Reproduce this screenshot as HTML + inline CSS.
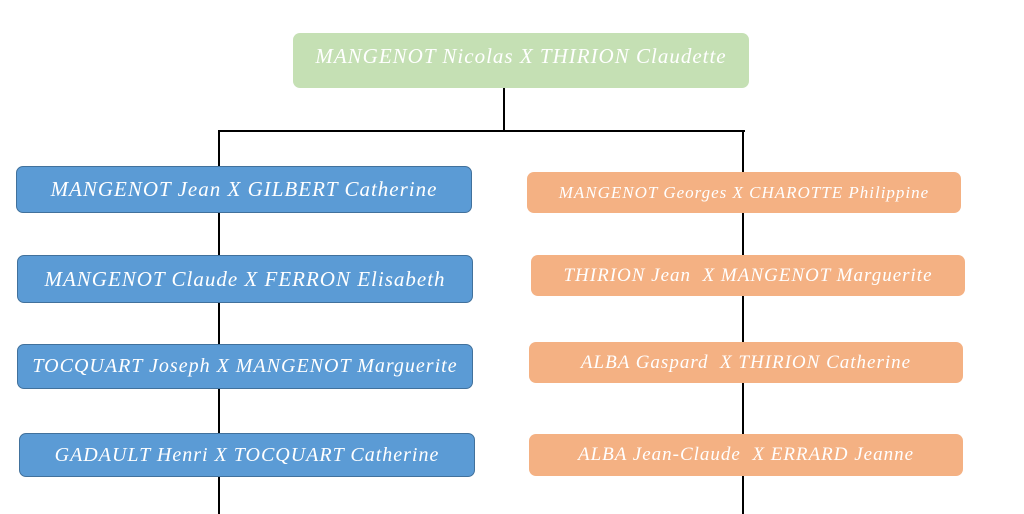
<!DOCTYPE html>
<html><head><style>
body{margin:0;width:1024px;height:514px;background:#fff;position:relative;overflow:hidden;font-family:"Liberation Serif",serif;font-style:italic;}
.b{position:absolute;box-sizing:border-box;display:flex;align-items:center;justify-content:center;color:#fff;border-radius:7px;white-space:nowrap;letter-spacing:1px;}
.g{background:#c5e0b4;font-size:21px;}
.bl{background:#5b9bd5;border:1.5px solid #41719c;font-size:21px;}
.o{background:#f4b183;font-size:18px;}
.l{position:absolute;background:#000;}
</style></head><body>
<div class="l" style="left:503px;top:86px;width:2px;height:46px"></div>
<div class="l" style="left:218px;top:130px;width:527px;height:2px"></div>
<div class="l" style="left:218px;top:130px;width:2px;height:384px"></div>
<div class="l" style="left:742px;top:130px;width:2px;height:384px"></div>
<div class="b g" style="left:293px;top:33px;width:456px;height:55px;padding-bottom:8px">MANGENOT Nicolas X THIRION Claudette</div>
<div class="b bl" style="left:16px;top:166px;width:456px;height:47px">MANGENOT Jean X GILBERT Catherine</div>
<div class="b bl" style="left:17px;top:255px;width:456px;height:48px">MANGENOT Claude X FERRON Elisabeth</div>
<div class="b bl" style="left:17px;top:344px;width:456px;height:45px;font-size:20px">TOCQUART Joseph X MANGENOT Marguerite</div>
<div class="b bl" style="left:19px;top:433px;width:456px;height:44px;font-size:20px">GADAULT Henri X TOCQUART Catherine</div>
<div class="b o" style="left:527px;top:172px;width:434px;height:41px;font-size:17px">MANGENOT Georges X CHAROTTE Philippine</div>
<div class="b o" style="left:531px;top:255px;width:434px;height:41px;font-size:19px">THIRION Jean &nbsp;X MANGENOT Marguerite</div>
<div class="b o" style="left:529px;top:342px;width:434px;height:41px;font-size:19px">ALBA Gaspard &nbsp;X THIRION Catherine</div>
<div class="b o" style="left:529px;top:434px;width:434px;height:42px;font-size:19px">ALBA Jean-Claude &nbsp;X ERRARD Jeanne</div>
</body></html>
